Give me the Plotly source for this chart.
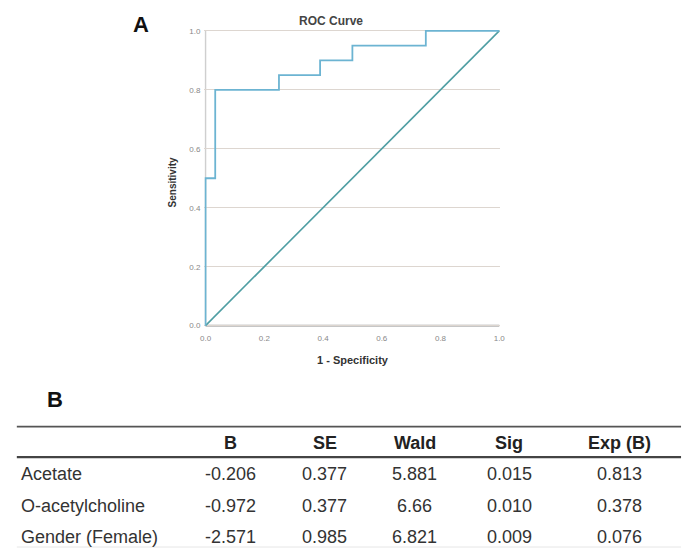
import plotly.graph_objects as go

# ROC data
fpr = [0.0, 0.0, 0.033, 0.033, 0.25, 0.25, 0.39, 0.39, 0.50, 0.50, 0.75, 0.75, 1.0]
tpr = [0.0, 0.5, 0.5, 0.8, 0.8, 0.85, 0.85, 0.90, 0.90, 0.95, 0.95, 1.0, 1.0]
ref_x = [0.0, 1.0]
ref_y = [0.0, 1.0]
tick_vals = [0.0, 0.2, 0.4, 0.6, 0.8, 1.0]

# Table data
col_headers = ["B", "SE", "Wald", "Sig", "Exp (B)"]
row_labels = ["Acetate", "O-acetylcholine", "Gender (Female)"]
col_B = ["-0.206", "-0.972", "-2.571"]
col_SE = ["0.377", "0.377", "0.985"]
col_Wald = ["5.881", "6.66", "6.821"]
col_Sig = ["0.015", "0.010", "0.009"]
col_Exp = ["0.813", "0.378", "0.076"]

W, H = 689, 552
def px(x):
    return x / W
def py(y):
    return 1 - y / H

FONT = "Arial, Liberation Sans, sans-serif"

fig = go.Figure()
fig.add_trace(go.Scatter(x=ref_x, y=ref_y, mode="lines",
                         line=dict(color="#4f9ea3", width=1.6), showlegend=False, hoverinfo="skip"))
fig.add_trace(go.Scatter(x=fpr, y=tpr, mode="lines",
                         line=dict(color="#6cb4d2", width=1.8), showlegend=False, hoverinfo="skip"))

fig.update_layout(
    width=W, height=H,
    margin=dict(l=0, r=0, t=0, b=0),
    paper_bgcolor="white", plot_bgcolor="white",
    font=dict(family=FONT, color="#333"),
    xaxis=dict(domain=[px(203), px(503)], range=[-0.004, 1.004],
               tickvals=tick_vals, tickformat=".1f",
               tickfont=dict(size=8, color="#888"), ticklabelstandoff=5,
               showgrid=False, zeroline=False, showline=False,
               ticks="", fixedrange=True),
    yaxis=dict(domain=[py(328), py(27)], range=[-0.004, 1.004],
               tickvals=tick_vals, tickformat=".1f",
               tickfont=dict(size=8, color="#888"), ticklabelstandoff=3,
               showgrid=True, gridcolor="#ddd6d0", gridwidth=1.2,
               zeroline=False, showline=False, ticks="", fixedrange=True),
)

# axis lines
fig.add_shape(type="line", xref="x", yref="y", x0=0, x1=0, y0=0, y1=1.0,
              line=dict(color="#cfcfcf", width=1.5), layer="below")
fig.add_shape(type="line", xref="x", yref="y", x0=0, x1=1.0, y0=0, y1=0,
              line=dict(color="#9a9a9a", width=2), layer="below")

ann = []
def add(x, y, text, size, color, xanchor="center", angle=0):
    ann.append(dict(x=px(x), y=py(y), xref="paper", yref="paper", text=text,
                    xanchor=xanchor, yanchor="middle", textangle=angle,
                    showarrow=False, font=dict(size=size, color=color, family=FONT)))

add(139, 22, "<b>A</b>", 22, "#111")
add(331, 18, "<b>ROC Curve</b>", 12, "#444")
add(354, 362, "<b>1 - Specificity</b>", 11, "#333")
add(171, 182, "<b>Sensitivity</b>", 10, "#333", angle=-90)
add(52, 402, "<b>B</b>", 22, "#111")

# table
col_x = [230, 325, 416, 512, 624]
row_y = [477, 509, 541]
for cx, h in zip(col_x, col_headers):
    add(cx, 446, f"<b>{h}</b>", 18, "#222")
cols = [col_B, col_SE, col_Wald, col_Sig, col_Exp]
for ri, (ry, lab) in enumerate(zip(row_y, row_labels)):
    add(15, ry, lab, 18, "#333", xanchor="left")
    for cx, col in zip(col_x, cols):
        add(cx, ry, col[ri], 18, "#333")
fig.update_layout(annotations=ann)

fig.add_shape(type="line", xref="paper", yref="paper", x0=px(13), x1=px(686), y0=py(429), y1=py(429),
              line=dict(color="#555", width=1.8))
fig.add_shape(type="line", xref="paper", yref="paper", x0=px(13), x1=px(686), y0=py(460), y1=py(460),
              line=dict(color="#444", width=2.4))
fig.add_shape(type="line", xref="paper", yref="paper", x0=px(13), x1=px(686), y0=py(551), y1=py(551),
              line=dict(color="#e6e6e6", width=1))

fig.write_html("out.html")
